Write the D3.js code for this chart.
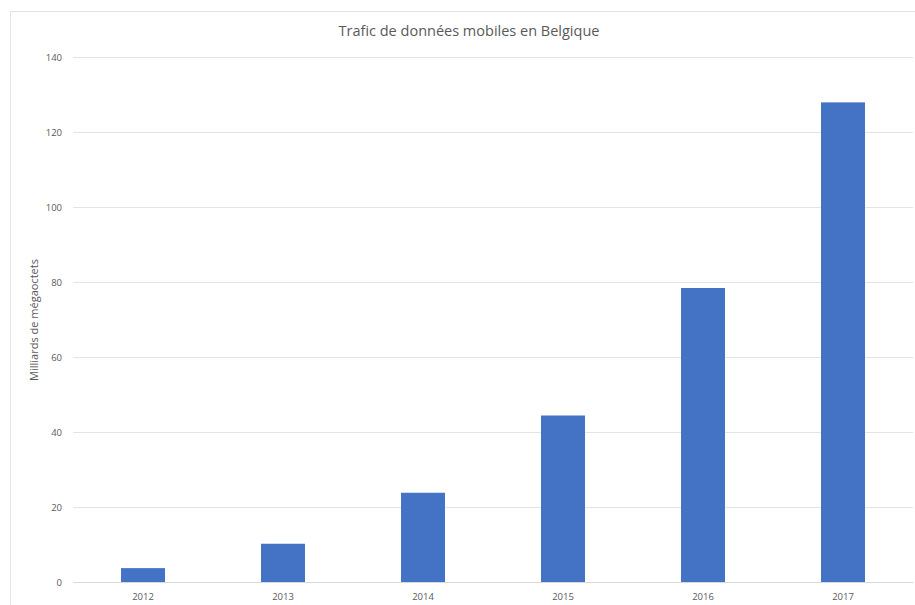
<!DOCTYPE html>
<html>
<head>
<meta charset="utf-8">
<script src="https://cdn.jsdelivr.net/npm/d3@7"></script>
<style>
  body { margin: 0; background: #fff; }
  text { font-family: "Open Sans", "Liberation Sans", sans-serif; }
</style>
</head>
<body>
<div id="chart"></div>
<script>
// données
const years = ["2012", "2013", "2014", "2015", "2016", "2017"];
const traffic = [3.7, 10.2, 23.8, 44.4, 78.4, 127.9];
const yTicks = [0, 20, 40, 60, 80, 100, 120, 140];

const W = 915, H = 605;
const margin = {top: 57, right: 2, bottom: 23, left: 73};
const width = W - margin.left - margin.right;
const height = H - margin.top - margin.bottom;

const svg = d3.select("#chart").append("svg")
    .attr("width", W)
    .attr("height", H);

// cadre du graphique
svg.append("rect")
    .attr("x", 10.5).attr("y", 11.5)
    .attr("width", W).attr("height", H)
    .attr("fill", "none")
    .attr("stroke", "#e3e3e3");

svg.append("text")
    .attr("x", 469).attr("y", 36)
    .attr("text-anchor", "middle")
    .attr("fill", "#595959")
    .style("font-size", "14.5px")
    .text("Trafic de données mobiles en Belgique");

const g = svg.append("g")
    .attr("transform", `translate(${margin.left},${margin.top})`);

const x = d3.scaleBand()
    .domain(years)
    .range([0, width])
    .paddingInner(0.686)
    .paddingOuter(0.343);

const y = d3.scaleLinear()
    .domain([0, 140])
    .range([height, 0]);

// grille horizontale + étiquettes
const yAxis = g.append("g")
    .call(d3.axisLeft(y).tickValues(yTicks).tickSize(-width).tickPadding(11))
    .call(s => s.select(".domain").remove());
yAxis.selectAll("line").attr("stroke", "#e4e4e4");
yAxis.selectAll("text").attr("fill", "#595959").style("font-size", "9.5px");

const xAxis = g.append("g")
    .attr("transform", `translate(0,${height})`)
    .call(d3.axisBottom(x).tickSize(0).tickPadding(11))
    .call(s => s.select(".domain").attr("stroke", "#d9d9d9"));
xAxis.selectAll("text").attr("fill", "#595959").style("font-size", "9.5px");

g.selectAll(".bar")
    .data(traffic)
    .enter().append("rect")
    .attr("class", "bar")
    .attr("x", (d, i) => x(years[i]))
    .attr("y", d => y(d))
    .attr("width", x.bandwidth())
    .attr("height", d => height - y(d))
    .attr("fill", "#4472c4");

svg.append("text")
    .attr("transform", "translate(38,320) rotate(-90)")
    .attr("text-anchor", "middle")
    .attr("fill", "#595959")
    .style("font-size", "11px")
    .text("Milliards de mégaoctets");
</script>
</body>
</html>
